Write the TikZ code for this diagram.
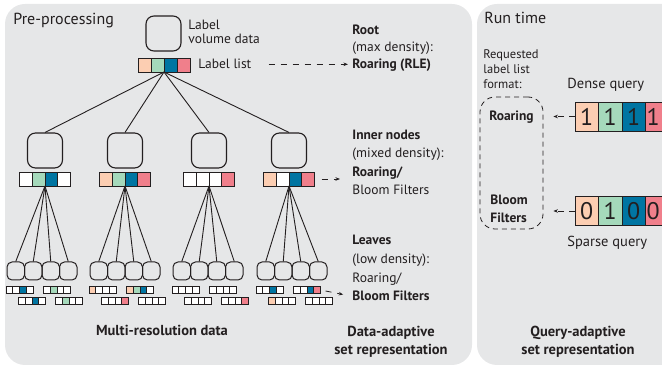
\documentclass[tikz,border=0pt]{standalone}
\usepackage{fontspec}
\setmainfont{PT Sans}
\usetikzlibrary{arrows.meta, calc}

\definecolor{panel}{RGB}{230,231,232}
\definecolor{ink}{RGB}{35,31,32}
\definecolor{peach}{RGB}{252,206,178}
\definecolor{mint}{RGB}{165,217,187}
\definecolor{lblue}{RGB}{0,117,162}
\definecolor{rose}{RGB}{240,127,139}

% label list: name, x, y, cell width, cell height, colours
\newcommand{\lablist}[6]{%
  \edef\cols{#6}%
  \foreach \c [count=\i] in \cols
    \node[cell, fill=\c, minimum width=#4pt, minimum height=#5pt] (#1-\i) at ({#2+(\i-2.5)*#4}, #3) {};
  \coordinate (#1) at (#2, {#3-#5/2});
}

\begin{document}
\begin{tikzpicture}[x=1pt, y=1pt, >=Stealth, thick,
    databox/.style={draw=ink, line width=1.1pt, rounded corners=8pt, minimum size=35pt, inner sep=0},
    leafbox/.style={draw=ink, line width=1pt, rounded corners=5pt, minimum width=17.5pt, minimum height=18pt, inner sep=0},
    cell/.style={draw=ink, line width=0.8pt, inner sep=0, outer sep=0},
    fan/.style={draw=ink, line width=0.9pt},
    dasharrow/.style={ink, line width=0.8pt, dash pattern=on 6pt off 6pt, -{Stealth[length=4.5pt, width=3.5pt]}},
    txt/.style={anchor=base west, inner sep=0, text=ink, font=\fontsize{13.5}{16}\selectfont},
    txtb/.style={txt, font=\fontsize{13.5}{16}\selectfont\bfseries},
    head/.style={txt, font=\fontsize{16}{18}\selectfont},
    title/.style={anchor=base, inner sep=0, text=ink, font=\fontsize{14.5}{18}\selectfont\bfseries},
    qcell/.style={cell, minimum width=23.5pt, minimum height=29pt, font=\fontsize{24}{24}\selectfont, text=ink}]
    \useasboundingbox (0,0) rectangle (662,-366);

    % Panels
    \fill[panel, rounded corners=20pt] (5,-4) rectangle (472,-365);
    \fill[panel, rounded corners=20pt] (477,-4) rectangle (700,-365);
    \node[head] (pre) at (13,-25) {Pre-processing};
    \node[head] (run) at (484,-24) {Run time};

    % Root
    \node[databox] (root) at (163.5,-33.5) {};
    \node[txt] (vol1) at (188,-30) {Label};
    \node[txt] (vol2) at (188,-44) {volume data};
    \lablist{rl}{164}{-65}{13}{14}{peach,mint,lblue,rose}
    \node[txt] (ll) at (198,-69) {Label list};

    % Inner nodes
    \foreach \g/\x/\cl in {1/45/{white,mint,lblue,white}, 2/125/{peach,mint,lblue,rose},
                           3/209/{white,white,white,rose}, 4/289/{peach,white,lblue,rose}} {
        \node[databox] (in\g) at (\x,-150.5) {};
        \lablist{il\g}{\x}{-179}{12.8}{14}{\cl}
        \draw[fan] (rl) -- (in\g.north);
    }

    % Leaves
    \foreach \g/\x/\ca/\cb/\cc/\cd in {
        1/42/{white,white,lblue,white}/{white,mint,white,white}/{white,white,lblue,white}/{white,mint,white,white},
        2/125/{peach,white,white,white}/{peach,mint,lblue,white}/{white,white,white,rose}/{white,white,white,white},
        3/208/{white,white,white,white}/{white,white,white,white}/{white,white,white,white}/{white,white,white,rose},
        4/292/{white,white,lblue,white}/{white,white,lblue,rose}/{peach,white,white,white}/{white,white,white,white}} {
        \foreach \k/\o in {1/-26.25, 2/-8.75, 3/8.75, 4/26.25} {
            \node[leafbox] (lf\g-\k) at ({\x+\o},-271) {};
            \draw[fan] (il\g) -- (lf\g-\k.north);
        }
        \lablist{la\g}{\x-22.5}{-290}{6.8}{6.5}{\ca}
        \lablist{lb\g}{\x+15}{-290}{6.8}{6.5}{\cb}
        \lablist{lc\g}{\x-10}{-301}{6.8}{6.5}{\cc}
        \lablist{ld\g}{\x+27}{-301}{6.8}{6.5}{\cd}
    }

    % Set representation per level
    \node[txtb] (rt1) at (352,-35) {Root};
    \node[txt]  (rt2) at (352,-52) {(max density):};
    \node[txtb] (rt3) at (352,-69) {Roaring (RLE)};
    \node[txtb] (it1) at (352,-140) {Inner nodes};
    \node[txt]  (it2) at (352,-158) {(mixed density):};
    \node[txtb] (it3) at (352,-177) {Roaring/};
    \node[txt]  (it4) at (352,-195) {Bloom Filters};
    \node[txtb] (lt1) at (352,-245) {Leaves};
    \node[txt]  (lt2) at (352,-264) {(low density):};
    \node[txt]  (lt3) at (352,-283) {Roaring/};
    \node[txtb] (lt4) at (352,-301) {Bloom Filters};
    \draw[dasharrow, shorten <=17pt, shorten >=4pt] (ll.east) -- (ll.east -| rt3.west);
    \draw[dasharrow, shorten <=7pt, shorten >=12pt] (il4-4.east) -- (il4-4.east -| it3.west);
    \draw[dasharrow, shorten <=5pt, shorten >=9pt] (lb4-4.east) -- (lt4.west);

    % Titles
    \node[title] (mrd) at (162,-336) {Multi-resolution data};
    \node[title] (da1) at (391,-337) {Data-adaptive};
    \node[title] (da2) at (391,-355) {set representation};
    \node[title] (qa1) at (578,-337) {Query-adaptive};
    \node[title] (qa2) at (578,-355) {set representation};

    % Run time queries
    \foreach \t [count=\i] in {Requested, label list, format:}
        \node[txt, font=\fontsize{12.5}{15}\selectfont] (req\i) at (483,{-59-15*(\i-1)}) {\t};
    \node[txt, font=\fontsize{14.5}{17}\selectfont] (dense) at (567,-89) {Dense query};
    \node[txt, font=\fontsize{14.5}{17}\selectfont] (sparse) at (567,-247) {Sparse query};
    \foreach \c/\d/\s [count=\i] in {peach/1/0, mint/1/1, lblue/1/0, rose/1/0} {
        \node[qcell, fill=\c] (dq-\i) at ({563.25+23.5*\i},-116.5) {\ifnum\i=4 \hspace*{-8pt}\fi\d};
        \node[qcell, fill=\c] (sq-\i) at ({563.25+23.5*\i},-211) {\ifnum\i=4 \hspace*{-8pt}\fi\s};
    }
    \node[draw=ink, line width=0.8pt, dash pattern=on 5pt off 4pt, rounded corners=15pt,
          minimum width=63pt, minimum height=132pt] (fmt) at (511.5,-163) {};
    \node[txtb, anchor=base] (roar) at (511.5,-121) {Roaring};
    \node[txtb] (bl1) at (490,-205) {Bloom};
    \node[txtb] (bl2) at (490,-223) {Filters};
    \draw[dasharrow, dash pattern=on 6pt off 5pt, shorten >=10pt] (dq-1.west) -- (dq-1.west -| fmt.east);
    \draw[dasharrow, dash pattern=on 6pt off 5pt, shorten >=10pt] (sq-1.west) -- (sq-1.west -| fmt.east);
\end{tikzpicture}
\end{document}
